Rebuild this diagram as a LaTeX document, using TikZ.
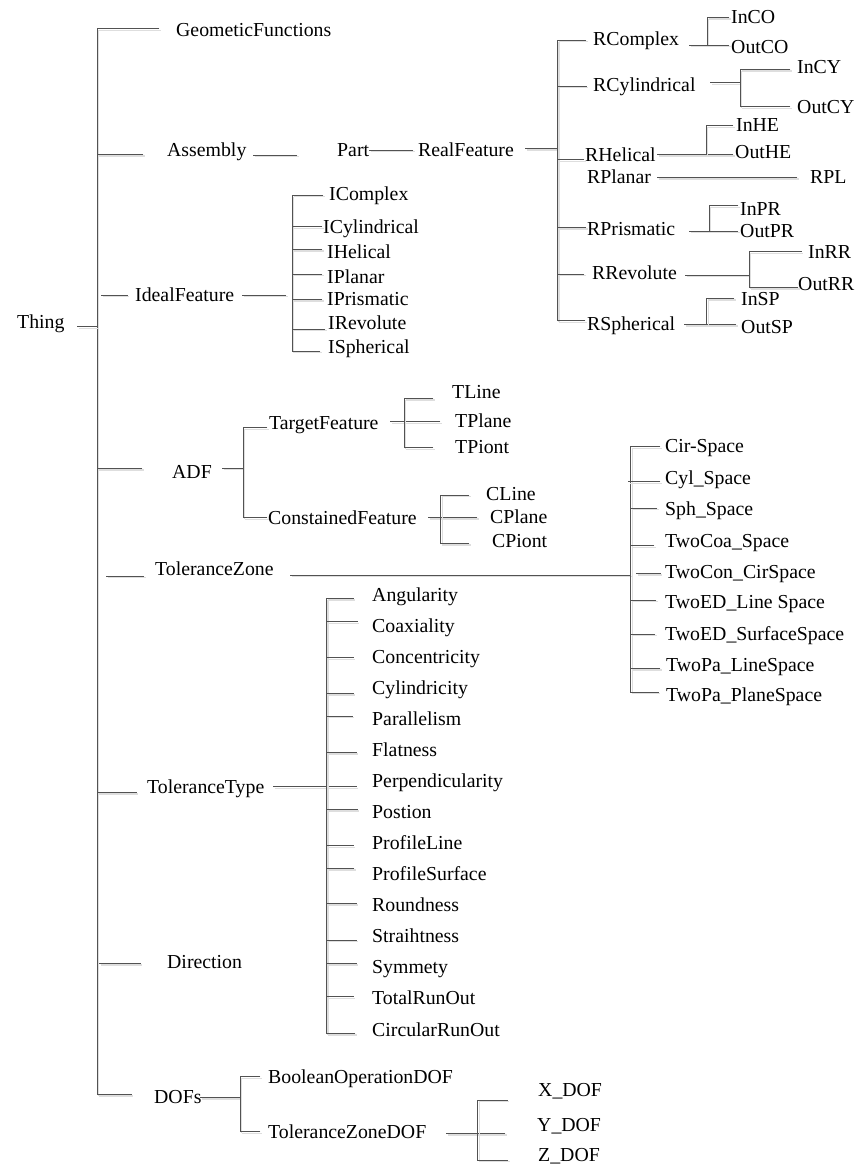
\documentclass[tikz,border=0pt]{standalone}
\usepackage{fontspec}
\setmainfont{Liberation Serif}
\begin{document}
\begin{tikzpicture}[x=1pt,y=-1pt,
  lbl/.style={anchor=base west, inner sep=0pt, font=\fontsize{19.8}{21}\selectfont},
  ln/.style={draw=black!68, line width=0.9pt, line cap=rect,
    preaction={draw=black!13, line width=1.1pt,
      transform canvas={shift={(1.5pt,-1.7pt)}}}}]
\useasboundingbox (0,0) rectangle (856,1167);
% label: name, left x, visual centre y, text
\newcommand\lab[4]{\node[lbl] (#1) at (#2,#3+6.5) {#4};}
% horizontal and vertical connector segments
\newcommand\hbr[3]{\draw[ln] (#1,#3) -- (#2,#3);}
\newcommand\vbr[3]{\draw[ln] (#1,#2) -- (#1,#3);}

% ---------- root ----------
\lab{thing}{17}{322}{Thing}
\coordinate (rootbus) at (97,28.5);
\draw[ln] (rootbus) -- (97,1094.3);
\hbr{77}{97}{326.7}

% ---------- first level ----------
\lab{geo}{176}{30}{GeometicFunctions}
\hbr{97}{159}{28.5}
\lab{asm}{167}{150}{Assembly}
\hbr{97}{143}{154.3}
\hbr{253}{297}{155}
\lab{part}{337}{150}{Part}
\hbr{369}{413}{150}
\lab{real}{418}{150}{RealFeature}
\hbr{525}{557.5}{148.3}

% ---------- real features ----------
\vbr{557.5}{40}{320.7}
\lab{rco}{593}{39}{RComplex}
\hbr{557.5}{586}{40}
\hbr{689}{707}{45}
\vbr{707}{17.3}{45}
\hbr{707}{729}{17.3}
\hbr{707}{729}{45}
\lab{inco}{731}{17}{InCO}
\lab{outco}{731}{47}{OutCO}

\lab{rcy}{593}{85}{RCylindrical}
\hbr{557.5}{586.7}{86}
\hbr{710}{740}{82.7}
\vbr{740}{69.3}{106.7}
\hbr{740}{790}{69.3}
\hbr{740}{790}{106.7}
\lab{incy}{797}{67}{InCY}
\lab{outcy}{797}{107}{OutCY}

\lab{rhe}{585}{155}{RHelical}
\hbr{557.5}{584}{159.5}
\hbr{657}{733}{154.3}
\vbr{706}{125.7}{154.3}
\hbr{706}{733}{125.7}
\lab{inhe}{736}{125}{InHE}
\lab{outhe}{735}{152}{OutHE}

\lab{rpl}{587}{177}{RPlanar}
\hbr{657}{797}{177.3}
\lab{rplx}{810}{177}{RPL}

\lab{rpr}{587}{229}{RPrismatic}
\hbr{557.5}{586}{227.3}
\hbr{689}{709}{231}
\vbr{709}{205.7}{231}
\hbr{709}{738}{205.7}
\hbr{709}{738}{231}
\lab{inpr}{740}{209}{InPR}
\lab{outpr}{740}{231}{OutPR}

\lab{rre}{592}{273}{RRevolute}
\hbr{557.5}{584}{274}
\hbr{685}{749}{275}
\vbr{749}{251.7}{287.3}
\hbr{749}{801.7}{251.7}
\hbr{749}{798}{287.3}
\lab{inrr}{808}{252}{InRR}
\lab{outrr}{798}{284}{OutRR}

\lab{rsp}{587}{324}{RSpherical}
\hbr{557.5}{585}{320.7}
\hbr{684}{736}{324.3}
\vbr{706.7}{298.3}{324.3}
\hbr{706.7}{734}{298.3}
\lab{insp}{741}{299}{InSP}
\lab{outsp}{741}{327}{OutSP}

% ---------- ideal features ----------
\lab{ideal}{135}{295}{IdealFeature}
\hbr{101.7}{127.7}{295}
\hbr{242}{286}{295}
\vbr{292}{195}{351}
\hbr{292}{323}{195}
\lab{ico}{329}{194}{IComplex}
\hbr{292}{322}{226.7}
\lab{icy}{323}{227}{ICylindrical}
\hbr{292}{322}{249.3}
\lab{ihe}{327}{252}{IHelical}
\hbr{292}{322}{274}
\lab{ipl}{327}{277}{IPlanar}
\hbr{292}{322}{299.3}
\lab{ipr}{327}{299}{IPrismatic}
\hbr{292}{325}{329}
\lab{ire}{328}{323}{IRevolute}
\hbr{292}{320}{351}
\lab{isp}{328}{347}{ISpherical}

% ---------- ADF ----------
\lab{adf}{172}{472}{ADF}
\hbr{97}{142}{468.3}
\hbr{222}{243}{468}
\vbr{243}{427.7}{517.7}
\hbr{243}{267}{427.7}
\hbr{243}{267}{517.7}
\lab{tf}{269}{423}{TargetFeature}
\lab{cf}{268}{518}{ConstainedFeature}
\hbr{390}{440}{421.7}
\vbr{404}{398.3}{447.7}
\hbr{404}{433}{398.3}
\hbr{404}{433}{447.7}
\lab{tline}{452}{392}{TLine}
\lab{tplane}{455}{421}{TPlane}
\lab{tpoint}{455}{447}{TPiont}
\hbr{428}{477}{517.3}
\vbr{440.7}{495}{543.3}
\hbr{440.7}{469}{495}
\hbr{440.7}{469}{543.3}
\lab{cline}{486}{494}{CLine}
\lab{cplane}{490}{517}{CPlane}
\lab{cpoint}{492}{541}{CPiont}

% ---------- tolerance zone ----------
\lab{tz}{155}{569}{ToleranceZone}
\hbr{106}{144}{576}
\hbr{290}{630.7}{575}
\vbr{630.7}{446.7}{692}
\hbr{630.7}{660}{446.7}
\lab{s1}{665}{446}{Cir-Space}
\hbr{628}{660}{481.7}
\lab{s2}{665}{478}{Cyl\_Space}
\hbr{630.7}{657}{508}
\lab{s3}{665}{509}{Sph\_Space}
\hbr{630.7}{654}{545.7}
\lab{s4}{665}{541}{TwoCoa\_Space}
\hbr{636}{660.7}{573.3}
\lab{s5}{665}{572}{TwoCon\_CirSpace}
\hbr{630.7}{656}{600}
\lab{s6}{665}{602}{TwoED\_Line Space}
\hbr{630.7}{655}{634}
\lab{s7}{665}{634}{TwoED\_SurfaceSpace}
\hbr{630.7}{660}{668.3}
\lab{s8}{666}{665}{TwoPa\_LineSpace}
\hbr{630.7}{658.3}{692}
\lab{s9}{666}{695}{TwoPa\_PlaneSpace}

% ---------- tolerance type ----------
\lab{tt}{147}{787}{ToleranceType}
\hbr{97}{136.7}{792.3}
\hbr{273}{356.7}{786.7}
\vbr{326.5}{598.3}{1033.3}
\hbr{326.5}{353.3}{598.3}
\hbr{326.5}{357.3}{621.7}
\hbr{326.5}{353.3}{657.7}
\hbr{326.5}{353.3}{693.3}
\hbr{326.5}{352.7}{716}
\hbr{326.5}{356.7}{752.3}
\hbr{326.5}{357.3}{809.3}
\hbr{326.5}{353.3}{845.7}
\hbr{326.5}{354}{868.3}
\hbr{326.5}{356.7}{903.3}
\hbr{326.5}{356.7}{940}
\hbr{326.5}{356.7}{963.3}
\hbr{326.5}{353.3}{996.7}
\hbr{326.5}{355}{1033.3}
\lab{t1}{372}{595}{Angularity}
\lab{t2}{372}{626}{Coaxiality}
\lab{t3}{372}{657}{Concentricity}
\lab{t4}{372}{688}{Cylindricity}
\lab{t5}{372}{719}{Parallelism}
\lab{t6}{372}{750}{Flatness}
\lab{t7}{372}{781}{Perpendicularity}
\lab{t8}{372}{812}{Postion}
\lab{t9}{372}{843}{ProfileLine}
\lab{t10}{372}{874}{ProfileSurface}
\lab{t11}{372}{905}{Roundness}
\lab{t12}{372}{936}{Straihtness}
\lab{t13}{372}{967}{Symmety}
\lab{t14}{372}{998}{TotalRunOut}
\lab{t15}{372}{1030}{CircularRunOut}

% ---------- direction ----------
\lab{dir}{167}{962}{Direction}
\hbr{99}{140.7}{963.3}

% ---------- DOFs ----------
\lab{dofs}{154}{1097}{DOFs}
\hbr{97}{131.7}{1094.3}
\hbr{200}{240}{1097.3}
\vbr{240}{1076.7}{1131.7}
\hbr{240}{260}{1076.7}
\hbr{240}{260}{1131.7}
\lab{bod}{268}{1077}{BooleanOperationDOF}
\lab{tzd}{268}{1132}{ToleranceZoneDOF}
\hbr{446.7}{505}{1133.3}
\vbr{477.7}{1100}{1160}
\hbr{477.7}{507.7}{1100}
\hbr{477.7}{508}{1160}
\lab{xd}{538}{1090}{X\_DOF}
\lab{yd}{537}{1125}{Y\_DOF}
\lab{zd}{538}{1155}{Z\_DOF}
\end{tikzpicture}
\end{document}
